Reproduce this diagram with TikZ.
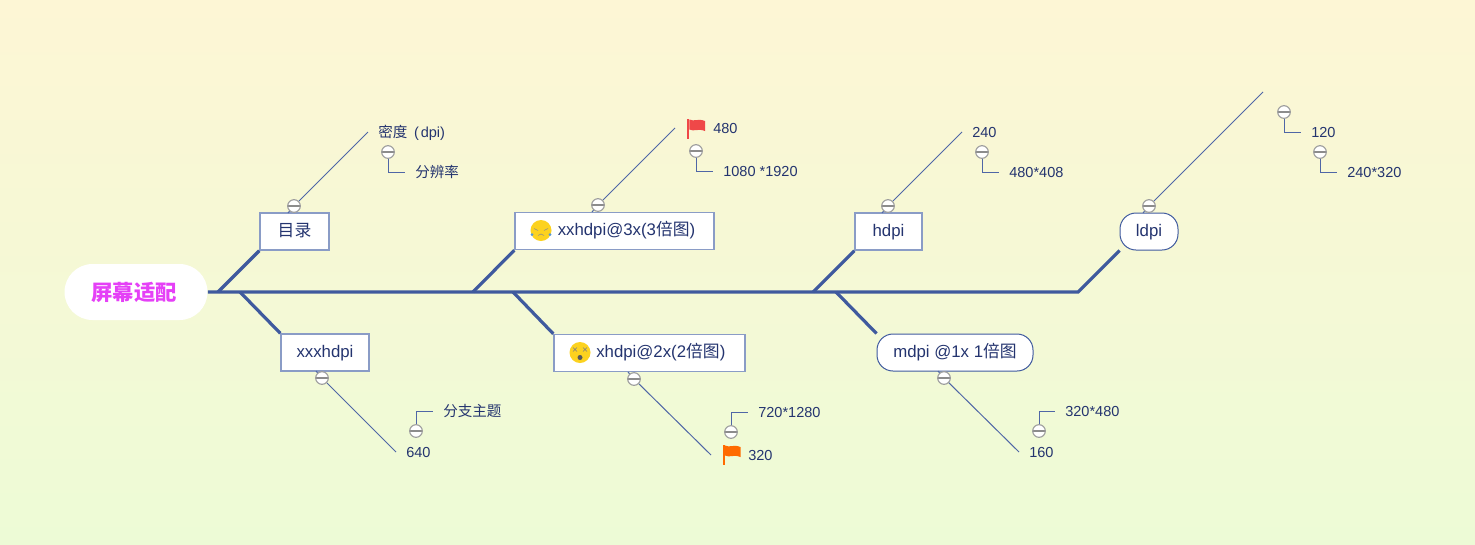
\documentclass[tikz,border=0pt]{standalone}
\usepackage{fontspec}
\setmainfont{Liberation Sans}
\newfontfamily\cjk{Noto Sans CJK SC}
\usetikzlibrary{positioning,calc}
\definecolor{spine}{HTML}{3F5A9E}
\definecolor{twigline}{HTML}{4F66A6}
\definecolor{inktext}{HTML}{24346F}
\definecolor{boxline}{HTML}{8A9CC6}
\definecolor{faceyellow}{HTML}{FCD21F}
\definecolor{rootpink}{HTML}{E540F7}
\definecolor{flagred}{HTML}{EF4848}
\definecolor{flagorange}{HTML}{FF6A00}
\definecolor{bgtop}{HTML}{FDF6D5}
\definecolor{bgbottom}{HTML}{EDFBD6}
\begin{document}
\begin{tikzpicture}[x=0.75pt, y=-0.75pt]
  \tikzstyle{root}=[rectangle, fill=white, minimum width=107.25pt, minimum height=42pt, rounded corners=21pt, font=\fontsize{16pt}{18pt}\selectfont\bfseries\cjk, text=rootpink]
  \tikzstyle{topic}=[rectangle, draw=boxline, fill=white, line width=1.1pt, minimum height=27.75pt, inner sep=0pt, text height=9.3pt, text depth=2pt, font=\fontsize{12.6pt}{14pt}\selectfont, text=inktext]
  \tikzstyle{roundtopic}=[topic, draw=spine, line width=0.75pt, rounded corners=12pt]
  \tikzstyle{leaf}=[inner ysep=0pt, inner xsep=7.5pt, anchor=west, text height=9pt, text depth=0.2pt, font=\fontsize{10.9pt}{13pt}\selectfont, text=inktext]
  \tikzstyle{fold}=[circle, draw=black!38, fill=white, line width=0.85pt, minimum size=9.5pt, inner sep=0pt, path picture={\draw[black!45, line width=1pt] (path picture bounding box.west) -- (path picture bounding box.east);}]
  \tikzstyle{bough}=[spine, line width=2.4pt]
  \tikzstyle{twig}=[twigline, line width=0.75pt]
  \tikzset{
    flagicon/.pic={
      \fill[#1] (0,-10) rectangle (2.4,10);
      \fill[#1] (2.4,-9.5) .. controls (7,-7) and (11,-11) .. (18,-8) -- (18,2) .. controls (11,-1) and (7,3) .. (2.4,0.5) -- cycle;
    },
    sadface/.pic={
      \fill[faceyellow] (0,0) circle[radius=10.5];
      \draw[black!45, line width=0.4pt] (-7,-2) -- (-3,0) (7,-2) -- (3,0) (-3,5) .. controls (-1,3) and (1,3) .. (3,5);
      \fill[cyan!60!blue!70] (-9,4) circle[radius=1.5] (9,4) circle[radius=1.5];
    },
    deadface/.pic={
      \fill[faceyellow] (0,0) circle[radius=10.5];
      \draw[black!50, line width=0.5pt] (-7,-5) -- (-3,-1) (-7,-1) -- (-3,-5) (7,-5) -- (3,-1) (7,-1) -- (3,-5);
      \fill[black!65] (0,5) circle[radius=2.5];
    }
  }

  % Background
  \shade[top color=bgtop, bottom color=bgbottom] (0,0) rectangle (1475,544);
  \useasboundingbox (0,0) rectangle (1475,544);

  % Root
  \node[root] (root) at (136,292) {屏幕适配\hspace*{3pt}};

  % Upper topics
  \node[topic, minimum width=51.75pt] (toc) at (294.5,231.5) {\cjk 目录};
  \node[topic, minimum width=149.25pt] (xxh) at (614.5,231) {\hspace*{18pt}xxhdpi@3x(3{\cjk 倍图})};
  \node[topic, minimum width=50.25pt] (hd) at (888.5,231.5) {hdpi};
  \node[roundtopic, minimum width=43.5pt] (ld) at (1149,231.5) {ldpi};

  % Lower topics
  \node[topic, minimum width=66pt] (xxxh) at (325,352.5) {xxxhdpi};
  \node[topic, minimum width=143.25pt] (xh) at (649.5,353) {\hspace*{17pt}xhdpi@2x(2{\cjk 倍图})};
  \node[roundtopic, minimum width=117pt] (md) at (955,352.5) {mdpi @1x 1{\cjk 倍图}};

  % Spine
  \coordinate (j1) at (218,292);
  \coordinate (j2) at (240,292);
  \coordinate (j3) at (473,292);
  \coordinate (j4) at (513,292);
  \coordinate (j5) at (813,292);
  \coordinate (j6) at (836,292);
  \coordinate (j7) at (1078,292);
  \draw[bough] (root.east) -- (j7) -- (ld.south west);
  \draw[bough] (j1) -- (toc.south west);
  \draw[bough] (j3) -- (xxh.south west);
  \draw[bough] (j5) -- (hd.south west);
  \draw[bough] (j2) -- (xxxh.north west);
  \draw[bough] (j4) -- (xh.north west);
  \draw[bough] (j6) -- (md.north west);

  % Leaves above
  \node[leaf] (dens) at (368,132) {{\cjk 密度}\hspace*{5pt}(\hspace*{1.5pt}dpi)};
  \node[leaf] (reso) at (405,172) {\cjk 分辨率};
  \node[leaf] (n480) at (703,128) {480};
  \node[leaf] (r1080) at (713,171) {1080 *1920};
  \node[leaf] (n240) at (962,132) {240};
  \node[leaf] (r480) at (999,172) {480*408};
  \node[leaf] (n120) at (1301,132) {120};
  \node[leaf] (r240) at (1337,172) {240*320};

  % Leaves below
  \node[leaf] (n640) at (396,452) {640};
  \node[leaf] (sub) at (433,411) {\cjk 分支主题};
  \node[leaf] (n320) at (738,455) {320};
  \node[leaf] (r720) at (748,412) {720*1280};
  \node[leaf] (n160) at (1019,452) {160};
  \node[leaf] (r320) at (1055,411) {320*480};

  % Free ends
  \coordinate (tipxx) at (675,128);
  \coordinate (tipld) at (1263,92);
  \coordinate (tipxh) at (711,455);

  % Folds
  \node[fold] (ftoc) at (294,206) {};
  \node[fold] (fxxh) at (598,205) {};
  \node[fold] (fhd) at (888,206) {};
  \node[fold] (fld) at (1149,206) {};
  \node[fold] (fxxxh) at (322,378) {};
  \node[fold] (fxh) at (634,379) {};
  \node[fold] (fmd) at (944,378) {};
  \node[fold] (fdens) at (388,152) {};
  \node[fold] (f480) at (696,151) {};
  \node[fold] (f240) at (982,152) {};
  \node[fold] (f120) at (1284,112) {};
  \node[fold] (f120b) at (1320,152) {};
  \node[fold] (f640) at (416,431) {};
  \node[fold] (f320) at (731,432) {};
  \node[fold] (f160) at (1039,431) {};

  % Twigs
  \draw[twig] (ftoc) -- (dens.west);
  \draw[twig] (fxxh) -- (tipxx);
  \draw[twig] (fhd) -- (n240.west);
  \draw[twig] (fld) -- (tipld);
  \draw[twig] (fxxxh) -- (n640.west);
  \draw[twig] (fxh) -- (tipxh);
  \draw[twig] (fmd) -- (n160.west);
  \draw[twig] (ftoc) -- ($(ftoc)+(-6,7)$);
  \draw[twig] (fxxh) -- ($(fxxh)+(-6,7)$);
  \draw[twig] (fhd) -- ($(fhd)+(-6,7)$);
  \draw[twig] (fld) -- ($(fld)+(-6,7)$);
  \draw[twig] (fxxxh) -- ($(fxxxh)+(-6,-7)$);
  \draw[twig] (fxh) -- ($(fxh)+(-6,-7)$);
  \draw[twig] (fmd) -- ($(fmd)+(-6,-7)$);

  % Elbows
  \draw[twig] (fdens) |- (reso.west);
  \draw[twig] (f480) |- (r1080.west);
  \draw[twig] (f240) |- (r480.west);
  \draw[twig] (f120) |- (n120.west);
  \draw[twig] (f120b) |- (r240.west);
  \draw[twig] (f640) |- (sub.west);
  \draw[twig] (f320) |- (r720.west);
  \draw[twig] (f160) |- (r320.west);

  % Icons
  \pic at (687,129) {flagicon={flagred}};
  \pic at (722.5,455) {flagicon={flagorange}};
  \pic at (541,230.5) {sadface};
  \pic at (580,352.5) {deadface};
\end{tikzpicture}
\end{document}
